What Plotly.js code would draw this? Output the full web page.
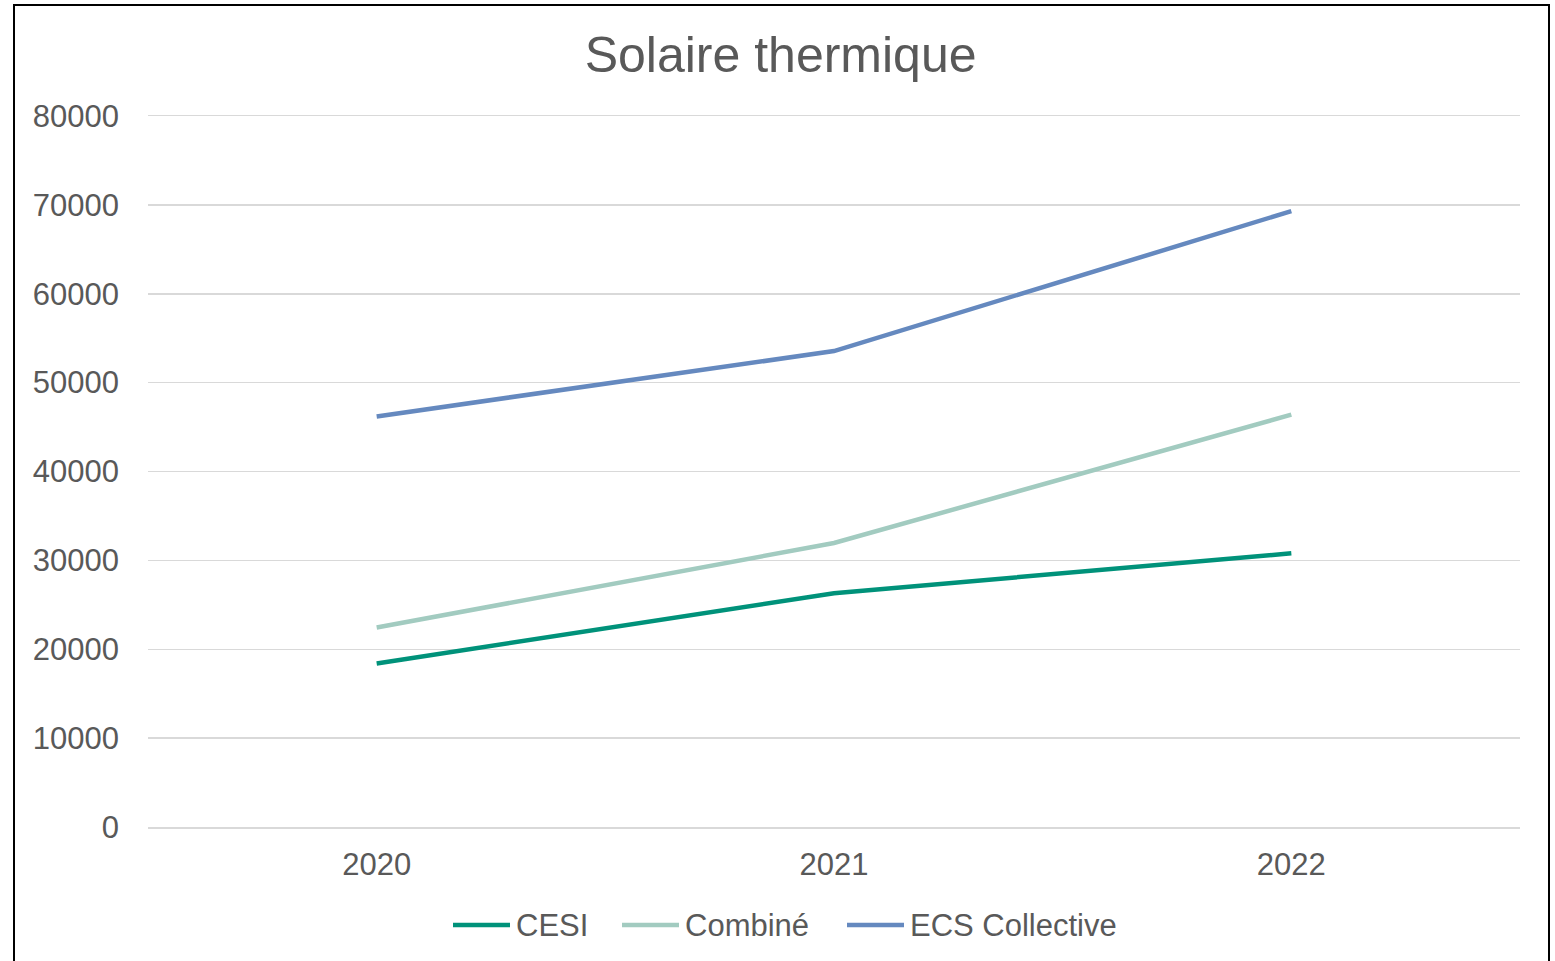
<!DOCTYPE html>
<html>
<head>
<meta charset="utf-8">
<script src="https://cdn.plot.ly/plotly-3.0.1.min.js"></script>
<style>
html,body{margin:0;padding:0;background:#fff;}
#wrap{position:relative;width:1555px;height:961px;}
#chart{width:1555px;height:961px;}
#frame{position:absolute;left:13px;top:4px;width:1533px;height:970px;border:2px solid #000;pointer-events:none;}
</style>
</head>
<body>
<div id="wrap"><div id="chart"></div><div id="frame"></div></div>
<script>
const years = ['2020', '2021', '2022'];
const cesi = [18400, 26300, 30800];
const combine = [22450, 31950, 46400];
const ecsCollective = [46200, 53550, 69300];
const seriesNames = ['CESI', 'Combiné', 'ECS Collective'];
const colors = ['#00927A', '#A2CBC0', '#6589BF'];
const values = [cesi, combine, ecsCollective];

const textColor = '#595959';
const W = 1555, H = 961;
const M = {l: 148, r: 35, t: 116, b: 134};
const pw = W - M.l - M.r, ph = H - M.t - M.b;
const px2paperX = px => (px - M.l) / pw;
const px2paperY = py => (H - M.b - py) / ph;

const traces = values.map((v, i) => ({
  type: 'scatter', mode: 'lines', x: years, y: v, name: seriesNames[i],
  line: {color: colors[i], width: 4.5}, showlegend: false
}));

// custom legend (layout positions, in pixels)
const legendStarts = [453, 622, 847];
const legendLineLen = 57;
const legendY = px2paperY(925);
const shapes = [];
const annotations = [];
seriesNames.forEach((n, i) => {
  shapes.push({type: 'line', xref: 'paper', yref: 'paper',
    x0: px2paperX(legendStarts[i]), x1: px2paperX(legendStarts[i] + legendLineLen),
    y0: legendY, y1: legendY, line: {color: colors[i], width: 4.5}});
  annotations.push({xref: 'paper', yref: 'paper', x: px2paperX(legendStarts[i] + legendLineLen + 4),
    y: legendY, xanchor: 'left', yanchor: 'middle', showarrow: false, text: n,
    font: {size: 31, color: textColor}});
});

const layout = {
  width: W, height: H,
  paper_bgcolor: '#fff', plot_bgcolor: '#fff',
  margin: M,
  font: {family: 'Liberation Sans, Arial, sans-serif', color: textColor},
  title: {text: 'Solaire thermique', font: {size: 50, color: textColor}, x: 0.502, xref: 'container', y: 0.943, yref: 'container', yanchor: 'middle', xanchor: 'center'},
  xaxis: {type: 'category', range: [-0.5, 2.5], showgrid: false, showline: true, mirror: true, linecolor: '#D9D9D9', linewidth: 1.5, zeroline: false, ticks: '', tickfont: {size: 31, color: textColor}, ticklabelstandoff: 9},
  yaxis: {range: [0, 80000], dtick: 10000, tick0: 0, showgrid: true, gridcolor: '#D9D9D9', gridwidth: 1.5, zeroline: false, showline: false, ticks: '', tickfont: {size: 31, color: textColor}, ticklabelstandoff: 28, tickformat: 'd'},
  shapes: shapes,
  annotations: annotations,
  showlegend: false
};
Plotly.newPlot('chart', traces, layout, {displayModeBar: false, staticPlot: true});
</script>
</body>
</html>
